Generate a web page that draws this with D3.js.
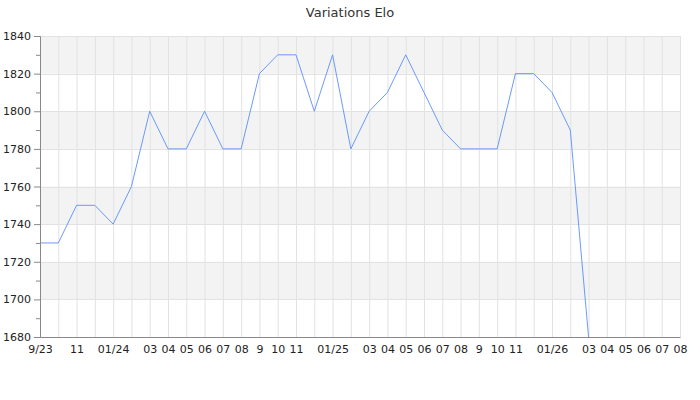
<!DOCTYPE html>
<html>
<head>
<meta charset="utf-8">
<script src="https://cdn.jsdelivr.net/npm/d3@7"></script>
<style>
    body { margin: 0; background: #fff; }
    text { font-family: "DejaVu Sans", sans-serif; }
</style>
</head>
<body>
<div id="chart"></div>
<script>
// months from 9/23 to 08/26, one slot per month
const months = [
    "2023-09", "2023-10", "2023-11", "2023-12",
    "2024-01", "2024-02", "2024-03", "2024-04", "2024-05", "2024-06",
    "2024-07", "2024-08", "2024-09", "2024-10", "2024-11", "2024-12",
    "2025-01", "2025-02", "2025-03", "2025-04", "2025-05", "2025-06",
    "2025-07", "2025-08", "2025-09", "2025-10", "2025-11", "2025-12",
    "2026-01", "2026-02", "2026-03", "2026-04", "2026-05", "2026-06",
    "2026-07", "2026-08"
];

const tickLabels = [
    "9/23", "", "11", "",
    "01/24", "", "03", "04", "05", "06",
    "07", "08", "9", "10", "11", "",
    "01/25", "", "03", "04", "05", "06",
    "07", "08", "9", "10", "11", "",
    "01/26", "", "03", "04", "05", "06",
    "07", "08"
];

// elo values (only the first months have data)
const elo = [
    1730, 1730, 1750, 1750,
    1740, 1760, 1800, 1780, 1780, 1800,
    1780, 1780, 1820, 1830, 1830, 1800,
    1830, 1780, 1800, 1810, 1830, 1810,
    1790, 1780, 1780, 1780, 1820, 1820,
    1810, 1790, 1680
];

const yTicks = [1680, 1700, 1720, 1740, 1760, 1780, 1800, 1820, 1840];

const margin = { top: 36, right: 20, bottom: 63, left: 40 },
    width = 700 - margin.left - margin.right,
    height = 400 - margin.top - margin.bottom;

const svg = d3.select("#chart")
    .append("svg")
    .attr("width", 700)
    .attr("height", 400);

svg.append("text")
    .attr("x", 350)
    .attr("y", 17)
    .attr("text-anchor", "middle")
    .style("font-size", "13px")
    .style("fill", "#333")
    .text("Variations Elo");

const g = svg.append("g")
    .attr("transform", "translate(" + margin.left + "," + margin.top + ")");

const x = d3.scalePoint()
    .domain(months)
    .range([0, width]);

const y = d3.scaleLinear()
    .domain([1680, 1840])
    .range([height, 0]);

// alternating bands
const bands = [];
for (let i = 0; i < yTicks.length - 1; i++) {
    if (i % 2 === 1) bands.push([yTicks[i], yTicks[i + 1]]);
}
g.append("g")
    .selectAll("rect")
    .data(bands)
    .enter()
    .append("rect")
    .attr("x", 0)
    .attr("width", width)
    .attr("y", d => y(d[1]))
    .attr("height", d => y(d[0]) - y(d[1]))
    .style("fill", "#f3f3f3");

// vertical grid
g.append("g")
    .selectAll("line")
    .data(months)
    .enter()
    .append("line")
    .attr("x1", d => x(d) + 0.5)
    .attr("x2", d => x(d) + 0.5)
    .attr("y1", 0)
    .attr("y2", height)
    .style("stroke", "#e2e2e2")
    .style("stroke-width", 1);

// horizontal grid
g.append("g")
    .selectAll("line")
    .data(yTicks)
    .enter()
    .append("line")
    .attr("x1", 0)
    .attr("x2", width)
    .attr("y1", d => Math.round(y(d)) + 0.5)
    .attr("y2", d => Math.round(y(d)) + 0.5)
    .style("stroke", "#e2e2e2")
    .style("stroke-width", 1);

// line
const line = d3.line()
    .x((d, i) => x(months[i]))
    .y(d => y(d));

g.append("path")
    .datum(elo)
    .attr("d", line)
    .style("fill", "none")
    .style("stroke", "#5b8ff9")
    .style("stroke-width", 0.9);

// y axis
const yAxis = g.append("g")
    .call(d3.axisLeft(y).tickValues(yTicks).tickSize(6).tickPadding(3).tickFormat(d3.format("d")));
g.append("g")
    .call(d3.axisLeft(y).tickValues(d3.range(1690, 1840, 20)).tickSize(4).tickFormat(""))
    .select(".domain").remove();
g.selectAll(".domain, .tick line").style("stroke", "#888");
yAxis.selectAll("text").style("font-size", "11px").style("fill", "#222");

// x axis
const xAxis = g.append("g")
    .attr("transform", "translate(0," + height + ")")
    .call(d3.axisBottom(x).tickSize(0).tickPadding(8).tickFormat((d, i) => tickLabels[i]));
xAxis.select(".domain").style("stroke", "#888");
xAxis.selectAll("text").style("font-size", "11px").style("fill", "#222");
</script>
</body>
</html>
